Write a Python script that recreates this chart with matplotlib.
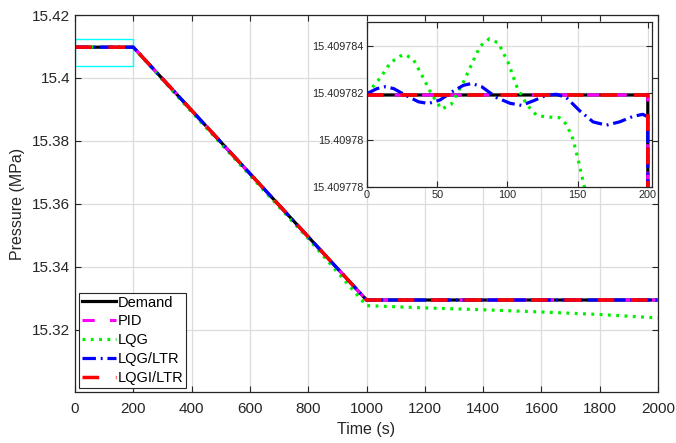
import matplotlib
matplotlib.use("Agg")
import matplotlib.pyplot as plt
from matplotlib.patches import Rectangle

plt.rcParams["font.family"] = ["Liberation Sans", "DejaVu Sans"]

# Time (s) and pressure (MPa) for each controller
t_demand = [0, 200, 1000, 2000]
p_demand = [15.4097819, 15.4097819, 15.3295, 15.3295]

t_pid = [0, 200, 1000, 2000]
p_pid = [15.4097819, 15.4097819, 15.3295, 15.3295]

t_lqg = [0, 9.5, 16.6, 23.7, 27, 33, 40, 46, 53, 60, 69, 75, 80.5, 87, 93.5,
         100.6, 106.5, 113.6, 120.7, 127.8, 137, 142, 146.7, 150.3, 153.8,
         155.7, 170, 200, 400, 600, 800, 1000, 1200, 1400, 1600, 1800, 2000]
p_lqg = [15.40978196, 15.40978263, 15.40978327, 15.40978355, 15.40978362,
         15.40978341, 15.40978263, 15.40978193, 15.40978130, 15.40978151,
         15.40978249, 15.40978327, 15.40978397, 15.40978428, 15.40978411,
         15.40978327, 15.40978228, 15.40978151, 15.40978104, 15.40978097,
         15.40978094, 15.40978066, 15.40978003, 15.40977918, 15.40977827,
         15.40977780, 15.4097600, 15.40970, 15.3892, 15.3691, 15.3490,
         15.3277, 15.3270, 15.3264, 15.3257, 15.3249, 15.3238]

t_lqg_ltr = [0, 7, 13, 19, 28.4, 36.7, 43.8, 52, 61.5, 68.6, 74.6, 81.7,
             92.3, 101.8, 110, 118.3, 127.8, 134.9, 142, 151.5, 161, 170.4,
             179.9, 189.3, 196.4, 198.8, 200, 1000, 2000]
p_lqg_ltr = [15.40978196, 15.40978217, 15.40978225, 15.40978217, 15.40978186,
             15.40978161, 15.40978154, 15.40978169, 15.40978207, 15.40978231,
             15.40978239, 15.40978225, 15.40978179, 15.40978155, 15.40978146,
             15.40978165, 15.40978189, 15.40978193, 15.40978179, 15.40978123,
             15.40978076, 15.40978062, 15.40978076, 15.40978099, 15.40978108,
             15.40978101, 15.40978100, 15.3295, 15.3295]

t_lqgi_ltr = [0, 200, 1000, 2000]
p_lqgi_ltr = [15.4097819, 15.4097819, 15.3295, 15.3295]

labels = ["Demand", "PID", "LQG", "LQG/LTR", "LQGI/LTR"]

axis_col = "#262626"
grid_col = "#dcdcdc"


def draw_series(ax):
    ax.plot(t_demand, p_demand, color="black", lw=2.3, ls="-", label=labels[0])
    ax.plot(t_pid, p_pid, color="magenta", lw=2.2, ls=(0, (4, 5)), label=labels[1])
    ax.plot(t_lqg, p_lqg, color="#00f000", lw=2.3, ls=(0, (0.9, 1.7)), label=labels[2])
    ax.plot(t_lqg_ltr, p_lqg_ltr, color="blue", lw=2.3, ls=(0, (4.2, 1.5, 0.6, 1.5)),
            label=labels[3])
    ax.plot(t_lqgi_ltr, p_lqgi_ltr, color="red", lw=2.5, ls=(0, (4.8, 4.8)), label=labels[4])


def style_axes(ax, size):
    ax.grid(True, color=grid_col, lw=0.9)
    ax.set_axisbelow(True)
    ax.tick_params(direction="in", top=True, right=True, length=4,
                   labelsize=size, colors=axis_col, width=0.8)
    for s in ax.spines.values():
        s.set_color(axis_col)
        s.set_linewidth(0.9)


fig = plt.figure(figsize=(6.76, 4.43), dpi=100)
ax = fig.add_axes([0.111, 0.1145, 0.8624, 0.8516])
draw_series(ax)
ax.add_patch(Rectangle((0, 15.4039), 200, 0.0086, fill=False, edgecolor="cyan", lw=1.0))
ax.set_xlim(0, 2000)
ax.set_ylim(15.3002, 15.42)
ax.set_xticks(range(0, 2001, 200))
ax.set_yticks([15.32, 15.34, 15.36, 15.38, 15.40, 15.42])
ax.set_yticklabels(["15.32", "15.34", "15.36", "15.38", "15.4", "15.42"])
style_axes(ax, 11)
ax.tick_params(axis="x", pad=7)
ax.set_xlabel("Time (s)", fontsize=11.5, color=axis_col, labelpad=4)
ax.set_ylabel("Pressure (MPa)", fontsize=11.5, color=axis_col, labelpad=5)

leg = ax.legend(loc="lower left", bbox_to_anchor=(0.007, 0.012), borderaxespad=0,
                fontsize=10.5, handlelength=2.3, handletextpad=0.15,
                labelspacing=0.33, borderpad=0.2, fancybox=False, framealpha=1)
leg.get_frame().set_edgecolor(axis_col)
leg.get_frame().set_linewidth(0.8)

# zoomed view of the first 200 s
ins = fig.add_axes([0.543, 0.578, 0.4215, 0.3725])
draw_series(ins)
ins.set_xlim(0, 203)
ins.set_ylim(15.409778, 15.409785)
ins.set_xticks([0, 50, 100, 150, 200])
ins.set_yticks([15.409778, 15.40978, 15.409782, 15.409784])
ins.set_yticklabels(["15.409778", "15.40978", "15.409782", "15.409784"])
style_axes(ins, 7.8)
ins.tick_params(pad=2.5)

fig.savefig("out.png", dpi=100)
